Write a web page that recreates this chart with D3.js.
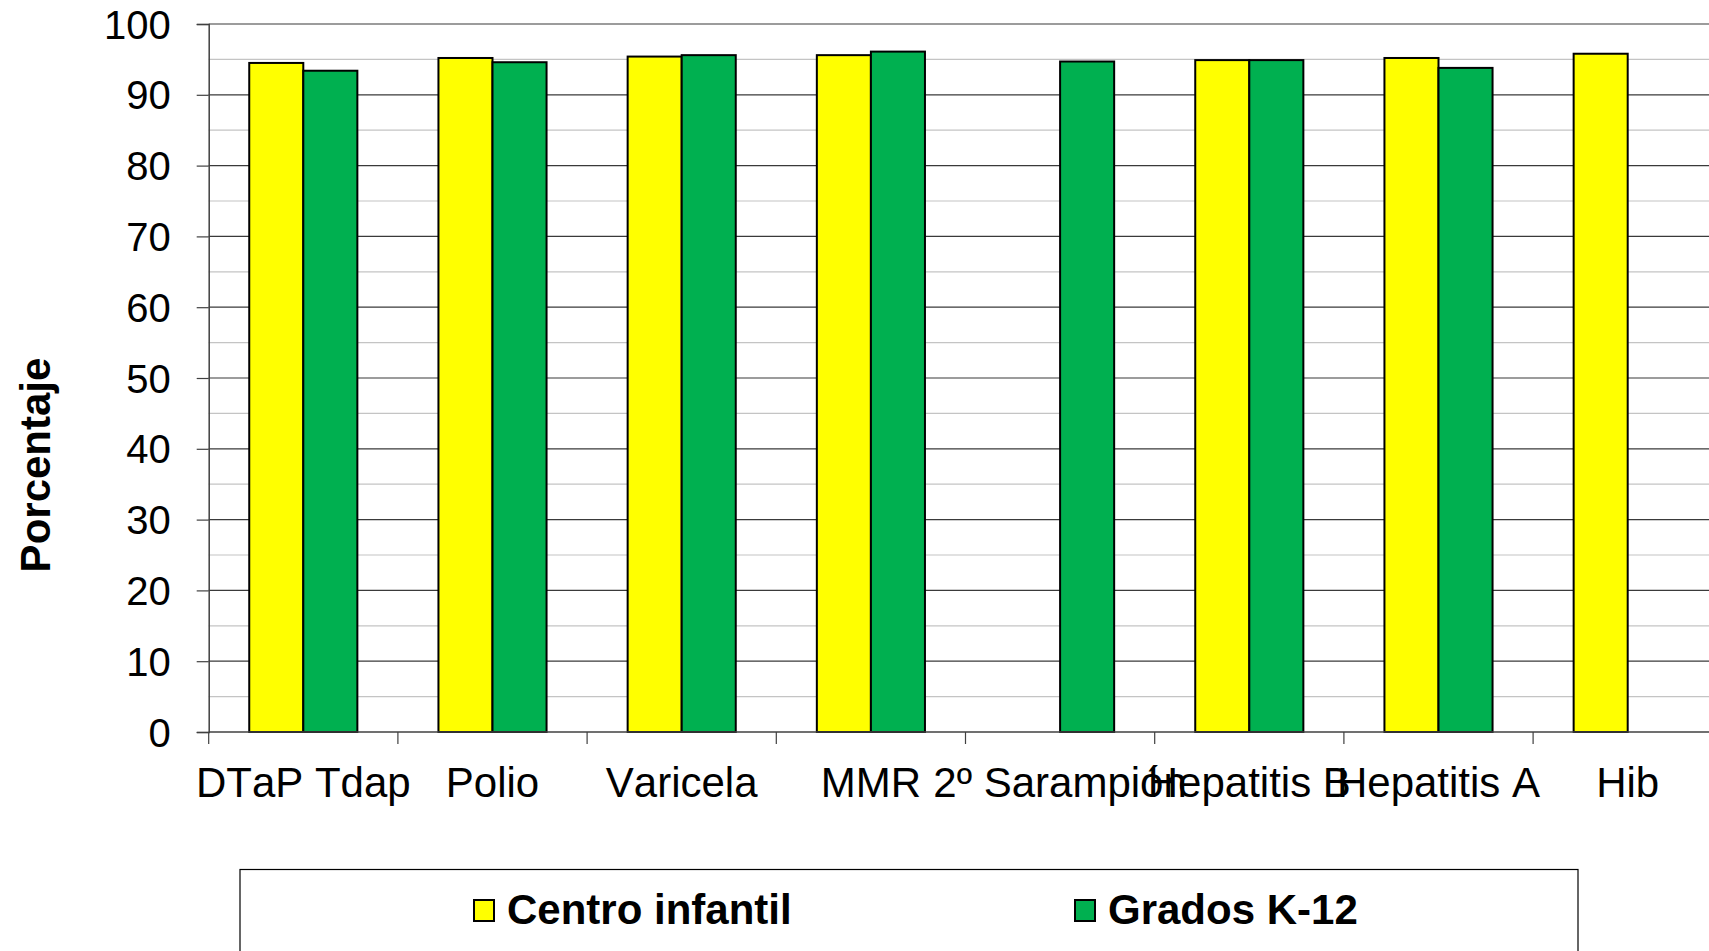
<!DOCTYPE html>
<html>
<head>
<meta charset="utf-8">
<script src="https://cdn.jsdelivr.net/npm/d3@7/dist/d3.min.js"></script>
<style>
  html, body { margin: 0; padding: 0; background: #fff; overflow: hidden; }
  svg { display: block; }
  text { font-family: "Liberation Sans", Arial, sans-serif; font-kerning: none; text-rendering: optimizeSpeed; }
</style>
</head>
<body>
<svg id="chart" width="1709" height="951"></svg>
<script>
// ---- data ----
const categories = ["DTaP Tdap", "Polio", "Varicela", "MMR", "2º Sarampión", "Hepatitis B", "Hepatitis A", "Hib"];
const seriesNames = ["Centro infantil", "Grados K-12"];
const centroInfantil = [94.5, 95.2, 95.4, 95.6, null, 94.9, 95.2, 95.8];
const gradosK12 = [93.4, 94.6, 95.6, 96.1, 94.7, 94.9, 93.8, null];
const seriesColors = ["#FFFF00", "#00B050"];
const yTicks = [0, 10, 20, 30, 40, 50, 60, 70, 80, 90, 100];
const yMinorTicks = [5, 15, 25, 35, 45, 55, 65, 75, 85, 95];

const seriesValues = [centroInfantil, gradosK12];

// ---- layout ----
const svg = d3.select("#chart");
const plotLeft = 208.7, plotTop = 24, plotBottom = 732;
const bandStep = 189.2;
const plotRight = plotLeft + bandStep * categories.length;
const visibleRight = 1709;

const x = d3.scaleBand().domain(categories).range([plotLeft, plotRight]).paddingInner(0).paddingOuter(0);
const barW = x.bandwidth() / 3.5;  // gap width 150%
const xs = d3.scaleBand().domain(seriesNames).range([0, barW * 2]);
const groupOffset = (x.bandwidth() - barW * 2) / 2;
const y = d3.scaleLinear().domain([0, 100]).range([plotBottom, plotTop]);

// minor gridlines
svg.append("g").selectAll("line").data(yMinorTicks).join("line")
  .attr("x1", plotLeft).attr("x2", visibleRight)
  .attr("y1", d => y(d)).attr("y2", d => y(d))
  .attr("stroke", "#c4c4c4").attr("stroke-width", 1.2);

// major gridlines
svg.append("g").selectAll("line").data(yTicks.filter(d => d > 0)).join("line")
  .attr("x1", plotLeft).attr("x2", visibleRight)
  .attr("y1", d => y(d)).attr("y2", d => y(d))
  .attr("stroke", "#3a3a3a").attr("stroke-width", 1.2);

// bars
const barData = [];
categories.forEach((c, i) => {
  seriesNames.forEach((s, j) => {
    const v = seriesValues[j][i];
    if (v !== null && v !== undefined) barData.push({ c, s, v, color: seriesColors[j] });
  });
});
svg.append("g").selectAll("rect").data(barData).join("rect")
  .attr("x", d => x(d.c) + groupOffset + xs(d.s))
  .attr("y", d => y(d.v))
  .attr("width", xs.bandwidth())
  .attr("height", d => y(0) - y(d.v))
  .attr("fill", d => d.color)
  .attr("stroke", "#000").attr("stroke-width", 2);

// y axis
const yAxis = d3.axisLeft(y).tickValues(yTicks).tickSize(12).tickPadding(26).tickFormat(d3.format("d"));
const gy = svg.append("g").attr("transform", `translate(${plotLeft},0)`).call(yAxis);
gy.select(".domain").attr("stroke", "#404040").attr("stroke-width", 1.5);
gy.selectAll(".tick line").attr("stroke", "#404040").attr("stroke-width", 1.2);
gy.selectAll(".tick text").attr("font-size", 40).attr("fill", "#000")
  .attr("font-family", "'Liberation Sans', Arial, sans-serif").attr("dy", "0.35em");

// x axis line
svg.append("line").attr("x1", plotLeft).attr("x2", visibleRight)
  .attr("y1", y(0)).attr("y2", y(0)).attr("stroke", "#404040").attr("stroke-width", 1.5);
// x ticks at category boundaries
const boundaries = categories.map(c => x(c));
svg.append("g").selectAll("line").data(boundaries).join("line")
  .attr("x1", d => d).attr("x2", d => d)
  .attr("y1", y(0)).attr("y2", y(0) + 12)
  .attr("stroke", "#404040").attr("stroke-width", 1.2);
// x labels
svg.append("g").selectAll("text").data(categories).join("text")
  .attr("x", d => x(d) + x.bandwidth() / 2)
  .attr("y", 797)
  .attr("text-anchor", "middle")
  .attr("font-size", 42)
  .attr("fill", "#000")
  .text(d => d);

// y title
svg.append("text")
  .attr("transform", "translate(50,465) rotate(-90)")
  .attr("text-anchor", "middle")
  .attr("font-size", 42).attr("font-weight", "bold")
  .text("Porcentaje");

// legend
svg.append("rect").attr("x", 240).attr("y", 869.5).attr("width", 1338).attr("height", 140)
  .attr("fill", "#fff").attr("stroke", "#000").attr("stroke-width", 1.2);
const legendX = [474, 1075];
const leg = svg.append("g").selectAll("g").data(seriesNames).join("g")
  .attr("transform", (d, i) => `translate(${legendX[i]},900)`);
leg.append("rect").attr("width", 20).attr("height", 21)
  .attr("fill", (d, i) => seriesColors[i]).attr("stroke", "#000").attr("stroke-width", 2);
leg.append("text").attr("x", 33).attr("y", 24)
  .attr("font-size", 42).attr("font-weight", "bold").text(d => d);
</script>
</body>
</html>
